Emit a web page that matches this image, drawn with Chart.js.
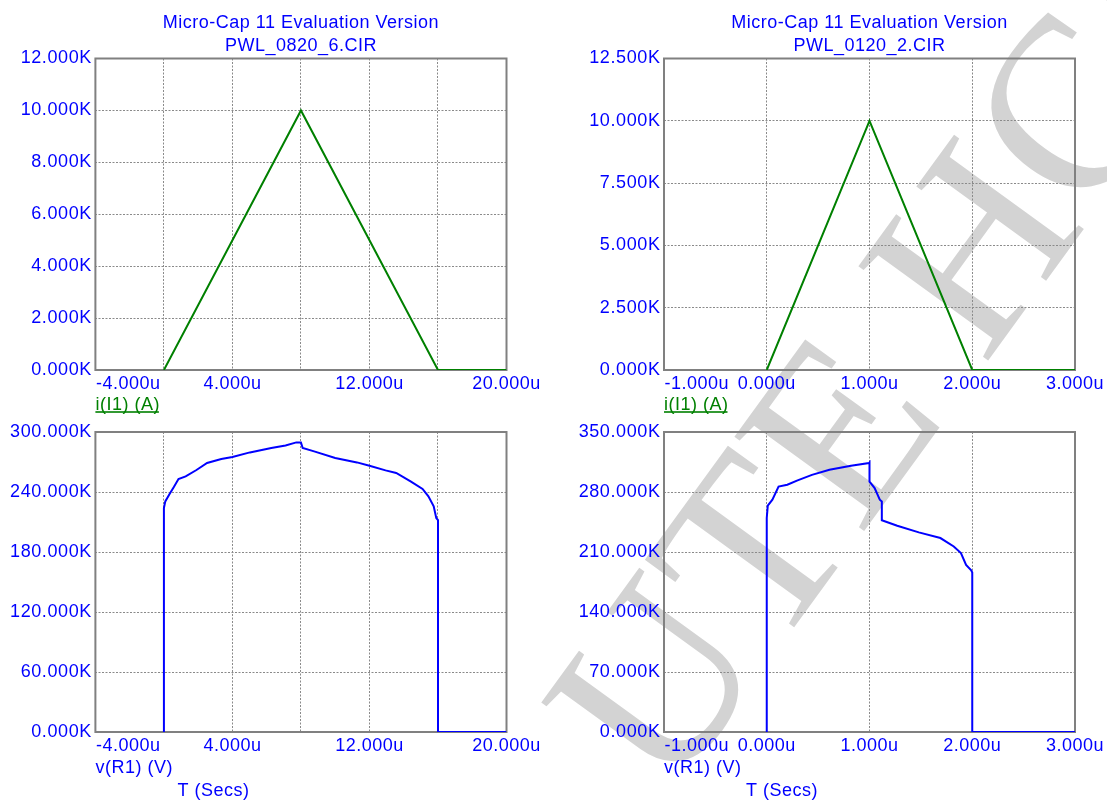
<!DOCTYPE html>
<html>
<head>
<meta charset="utf-8">
<script src="https://cdn.jsdelivr.net/npm/chart.js@4.4.1/dist/chart.umd.min.js"></script>
<style>
  html, body { margin: 0; padding: 0; background: #fff; }
  #wrap { position: relative; width: 1107px; height: 801px; overflow: hidden; }
  #wrap canvas { position: absolute; left: 0; top: 0; }
</style>
</head>
<body>
<div id="wrap">
  <canvas id="mark" width="1107" height="801"></canvas>
  <canvas id="tl" width="1107" height="801"></canvas>
  <canvas id="tr" width="1107" height="801"></canvas>
  <canvas id="bl" width="1107" height="801"></canvas>
  <canvas id="br" width="1107" height="801"></canvas>
</div>
<script>
// ---- data (time in us, values in K) ----
const TITLE = 'Micro-Cap 11 Evaluation Version';

// PWL_0820_6.CIR
const i6Time = [0, 8, 16, 20];
const i6Amp  = [0, 10, 0, 0];
const v6Time = [0, 0, 0.08, 0.33, 0.58, 0.85, 1.27, 1.9, 2.52, 3.35, 4.0, 5.02, 6.27, 7.1, 7.73, 8.0, 8.1, 8.77,
                10.0, 11.27, 12.0, 12.94, 13.56, 14.4, 15.1, 15.44, 15.75, 15.9, 16.0, 16.0, 20];
const v6Volt = [0, 224, 230.6, 238, 245, 253, 255.6, 262, 269, 273, 275, 279.6, 284, 286.6, 289.6, 289.6, 284, 280.6,
                274, 269.6, 266.3, 261.6, 259, 250.6, 243, 235.6, 225.6, 214, 212, 0, 0];

// PWL_0120_2.CIR
const i2Time = [0, 1, 2, 3];
const i2Amp  = [0, 10, 0, 0];
const v2Time = [0, 0, 0, 0.01, 0.055, 0.115, 0.2, 0.3, 0.44, 0.61, 0.82, 0.995, 1.0, 1.0, 1.05, 1.1, 1.12, 1.12,
                1.27, 1.48, 1.69, 1.82, 1.89, 1.94, 1.99, 2.0, 2.0, 3.0];
const v2Volt = [0, 216.5, 249.7, 264, 271, 286.3, 288.5, 293.5, 300, 306, 310.7, 313.8, 314.5, 292, 284.6, 271, 269, 247,
                240.7, 232.9, 226.3, 216.5, 208.8, 195, 188.5, 186, 0, 0];

// axes
const xGrid6   = [-4, 0, 4, 8, 12, 16, 20];
const xLabels6 = [-4, 4, 12, 20];
const xGrid2   = [-1, 0, 1, 2, 3];
const xLabels2 = [-1, 0, 1, 2, 3];
const yI6 = [0, 2, 4, 6, 8, 10, 12];
const yI2 = [0, 2.5, 5, 7.5, 10, 12.5];
const yV6 = [0, 60, 120, 180, 240, 300];
const yV2 = [0, 70, 140, 210, 280, 350];

const BLUE = '#0000ff', GREEN = '#008000', GRID = '#8a8a8a';
const FONT = '"Liberation Sans", Arial, sans-serif';

// border, titles, x labels and trace names
const deco = {
  id: 'deco',
  beforeDraw(chart) { chart.ctx.letterSpacing = '0.6px'; },
  beforeDatasetsDraw(chart) {
    const { ctx, chartArea: a } = chart;
    ctx.save();
    ctx.strokeStyle = '#808080';
    ctx.lineWidth = 2;
    ctx.strokeRect(a.left, a.top, a.right - a.left, a.bottom - a.top);
    ctx.restore();
  },
  afterDraw(chart, args, o) {
    const { ctx, chartArea: a } = chart;
    const x = chart.scales.x;
    ctx.save();
    ctx.font = '18px ' + FONT;
    ctx.letterSpacing = '0.5px';
    ctx.textBaseline = 'alphabetic';
    ctx.fillStyle = BLUE;
    if (o.title) {
      ctx.textAlign = 'center';
      const cx = (a.left + a.right) / 2;
      ctx.fillText(TITLE, cx, a.top - 30.2);
      ctx.fillText(o.title, cx, a.top - 7.8);
    }
    o.xLabels.forEach((v, i) => {
      ctx.textAlign = i === 0 ? 'left' : 'center';
      ctx.fillText(v.toFixed(3) + 'u', i === 0 ? a.left + 0.5 : x.getPixelForValue(v), a.bottom + 19.3);
    });
    ctx.textAlign = 'left';
    if (o.trace === 'i') {
      const t = 'i(I1) (A)';
      ctx.fillStyle = GREEN;
      ctx.fillText(t, a.left, a.bottom + 39.5);
      ctx.fillRect(a.left, a.bottom + 41.2, ctx.measureText(t).width - 1, 1.6);
    } else {
      ctx.fillText('v(R1) (V)', a.left, a.bottom + 41);
      ctx.fillText('T (Secs)', a.left + 82, a.bottom + 64.3);
    }
    ctx.restore();
  }
};

function plot(id, o) {
  const fixed = arr => s => { s.ticks = arr.map(v => ({ value: v })); };
  return new Chart(document.getElementById(id), {
    type: 'line',
    data: {
      datasets: [{
        data: o.t.map((t, i) => ({ x: t, y: o.v[i] })),
        borderColor: o.color, borderWidth: 2, pointRadius: 0, tension: 0, fill: false
      }]
    },
    options: {
      responsive: false, animation: false, events: [],
      layout: { padding: { left: o.area[0] - 90, top: o.area[1], right: 1107 - o.area[2], bottom: 801 - o.area[3] } },
      plugins: {
        legend: { display: false }, tooltip: { enabled: false },
        deco: { title: o.title, xLabels: o.xLabels, trace: o.trace }
      },
      scales: {
        x: {
          type: 'linear', min: o.xGrid[0], max: o.xGrid[o.xGrid.length - 1],
          afterBuildTicks: fixed(o.xGrid),
          afterFit: s => { s.height = 0; },
          ticks: { display: false },
          grid: { color: GRID, lineWidth: 1, drawTicks: false },
          border: { display: false, dash: [2, 1.5] }
        },
        y: {
          min: o.yTicks[0], max: o.yTicks[o.yTicks.length - 1],
          afterBuildTicks: fixed(o.yTicks),
          afterFit: s => { s.width = 90; },
          ticks: { color: BLUE, font: { family: FONT, size: 18 }, padding: 3.5,
                   callback: v => v.toFixed(3) + 'K' },
          grid: { color: GRID, lineWidth: 1, drawTicks: false },
          border: { display: false, dash: [2, 1.5] }
        }
      }
    },
    plugins: [deco]
  });
}

// watermark behind the plots
(function () {
  const ctx = document.getElementById('mark').getContext('2d');
  ctx.fillStyle = '#d3d3d3';
  ctx.font = '245px "Liberation Serif", "DejaVu Serif", serif';
  ctx.translate(668, 801);
  ctx.rotate(-54 * Math.PI / 180);
  ctx.fillText('UTE HCM', 0, 0);
})();

plot('tl', { area: [95.4, 58.5, 506.5, 370], t: i6Time, v: i6Amp, color: GREEN, xGrid: xGrid6, xLabels: xLabels6,
             yTicks: yI6, title: 'PWL_0820_6.CIR', trace: 'i' });
plot('tr', { area: [664, 58.5, 1075, 370], t: i2Time, v: i2Amp, color: GREEN, xGrid: xGrid2, xLabels: xLabels2,
             yTicks: yI2, title: 'PWL_0120_2.CIR', trace: 'i' });
plot('bl', { area: [95.4, 432, 506.5, 732], t: v6Time, v: v6Volt, color: BLUE, xGrid: xGrid6, xLabels: xLabels6,
             yTicks: yV6, trace: 'v' });
plot('br', { area: [664, 432, 1075, 732], t: v2Time, v: v2Volt, color: BLUE, xGrid: xGrid2, xLabels: xLabels2,
             yTicks: yV2, trace: 'v' });
</script>
</body>
</html>
